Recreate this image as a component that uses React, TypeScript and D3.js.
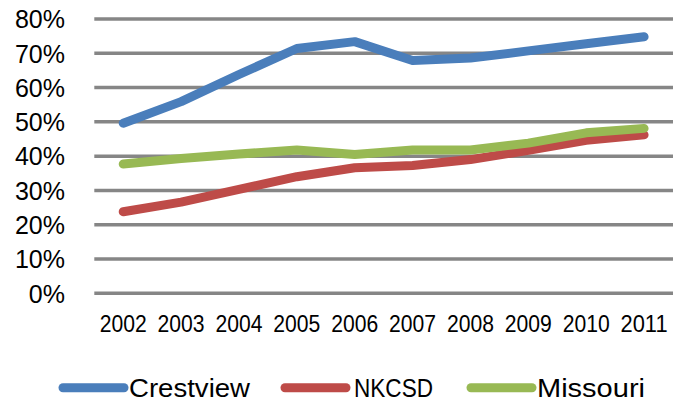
import React, { useEffect, useRef } from "react";
import * as d3 from "d3";

const years = ["2002", "2003", "2004", "2005", "2006", "2007", "2008", "2009", "2010", "2011"];
const crestview = [49.6, 55.9, 63.8, 71.4, 73.4, 67.9, 68.6, 70.7, 72.8, 74.8];
const nkcsd = [23.8, 26.6, 30.3, 34.0, 36.6, 37.3, 39.0, 41.7, 44.6, 46.2];
const missouri = [37.7, 39.3, 40.6, 41.8, 40.5, 41.8, 41.8, 43.8, 46.8, 48.1];
const yTicks = [0, 10, 20, 30, 40, 50, 60, 70, 80];

const seriesNames = ["Crestview", "NKCSD", "Missouri"];
const seriesColors = ["#4A7EBB", "#BE4B48", "#98B954"];

const FONT = "'Liberation Sans', Arial, sans-serif";

const App: React.FC = () => {
  const ref = useRef<SVGSVGElement>(null);

  useEffect(() => {
    if (!ref.current) return;
    const svg = d3.select(ref.current);
    svg.selectAll("*").remove();

    const left = 94.3;
    const right = 673;
    const top = 19;
    const bottom = 293.3;

    const x = d3.scaleBand().domain(years).range([left, right]);
    const y = d3.scaleLinear().domain([0, 80]).range([bottom, top]);

    // gridlines
    svg
      .append("g")
      .selectAll("line")
      .data(yTicks)
      .enter()
      .append("line")
      .attr("x1", left)
      .attr("x2", right)
      .attr("y1", (d) => y(d))
      .attr("y2", (d) => y(d))
      .attr("stroke", "#868686")
      .attr("stroke-width", 3.5);

    // y labels
    svg
      .append("g")
      .selectAll("text")
      .data(yTicks)
      .enter()
      .append("text")
      .attr("x", 65)
      .attr("y", (d) => y(d) + 9.3)
      .attr("text-anchor", "end")
      .style("font-family", FONT)
      .style("font-size", "25px")
      .attr("fill", "#000")
      .text((d) => `${d}%`);

    // x labels (squeezed a bit, Calibri-like proportions)
    svg
      .append("g")
      .selectAll("text")
      .data(years)
      .enter()
      .append("text")
      .attr("x", (d) => (x(d) || 0) + x.bandwidth() / 2)
      .attr("y", 332.3)
      .attr("text-anchor", "middle")
      .attr("textLength", 47)
      .attr("lengthAdjust", "spacingAndGlyphs")
      .style("font-family", FONT)
      .style("font-size", "24px")
      .attr("fill", "#000")
      .text((d) => d);

    const line = d3
      .line<number>()
      .x((_, i) => (x(years[i]) || 0) + x.bandwidth() / 2)
      .y((d) => y(d));

    const allSeries = [crestview, nkcsd, missouri];
    allSeries.forEach((s, i) => {
      svg
        .append("path")
        .datum(s)
        .attr("d", line)
        .attr("fill", "none")
        .attr("stroke", seriesColors[i])
        .attr("stroke-width", 9)
        .attr("stroke-linejoin", "round")
        .attr("stroke-linecap", "round");
    });

    // legend
    const legendX = [63, 285, 471];
    const textX = [129, 354, 537];
    const textW = [121, 79, 108];
    const ly = 387.7;
    const lg = svg.append("g");
    seriesNames.forEach((name, i) => {
      lg.append("line")
        .attr("x1", legendX[i])
        .attr("x2", legendX[i] + 61)
        .attr("y1", ly)
        .attr("y2", ly)
        .attr("stroke", seriesColors[i])
        .attr("stroke-width", 9)
        .attr("stroke-linecap", "round");
      lg.append("text")
        .attr("x", textX[i])
        .attr("y", ly + 9.3)
        .attr("textLength", textW[i])
        .attr("lengthAdjust", "spacingAndGlyphs")
        .style("font-family", FONT)
        .style("font-size", "25px")
        .attr("fill", "#000")
        .text(name);
    });
  }, []);

  return (
    <svg
      ref={ref}
      width={683}
      height={403}
      style={{ position: "absolute", left: 0, top: 0, background: "#fff" }}
    />
  );
};

export default App;
